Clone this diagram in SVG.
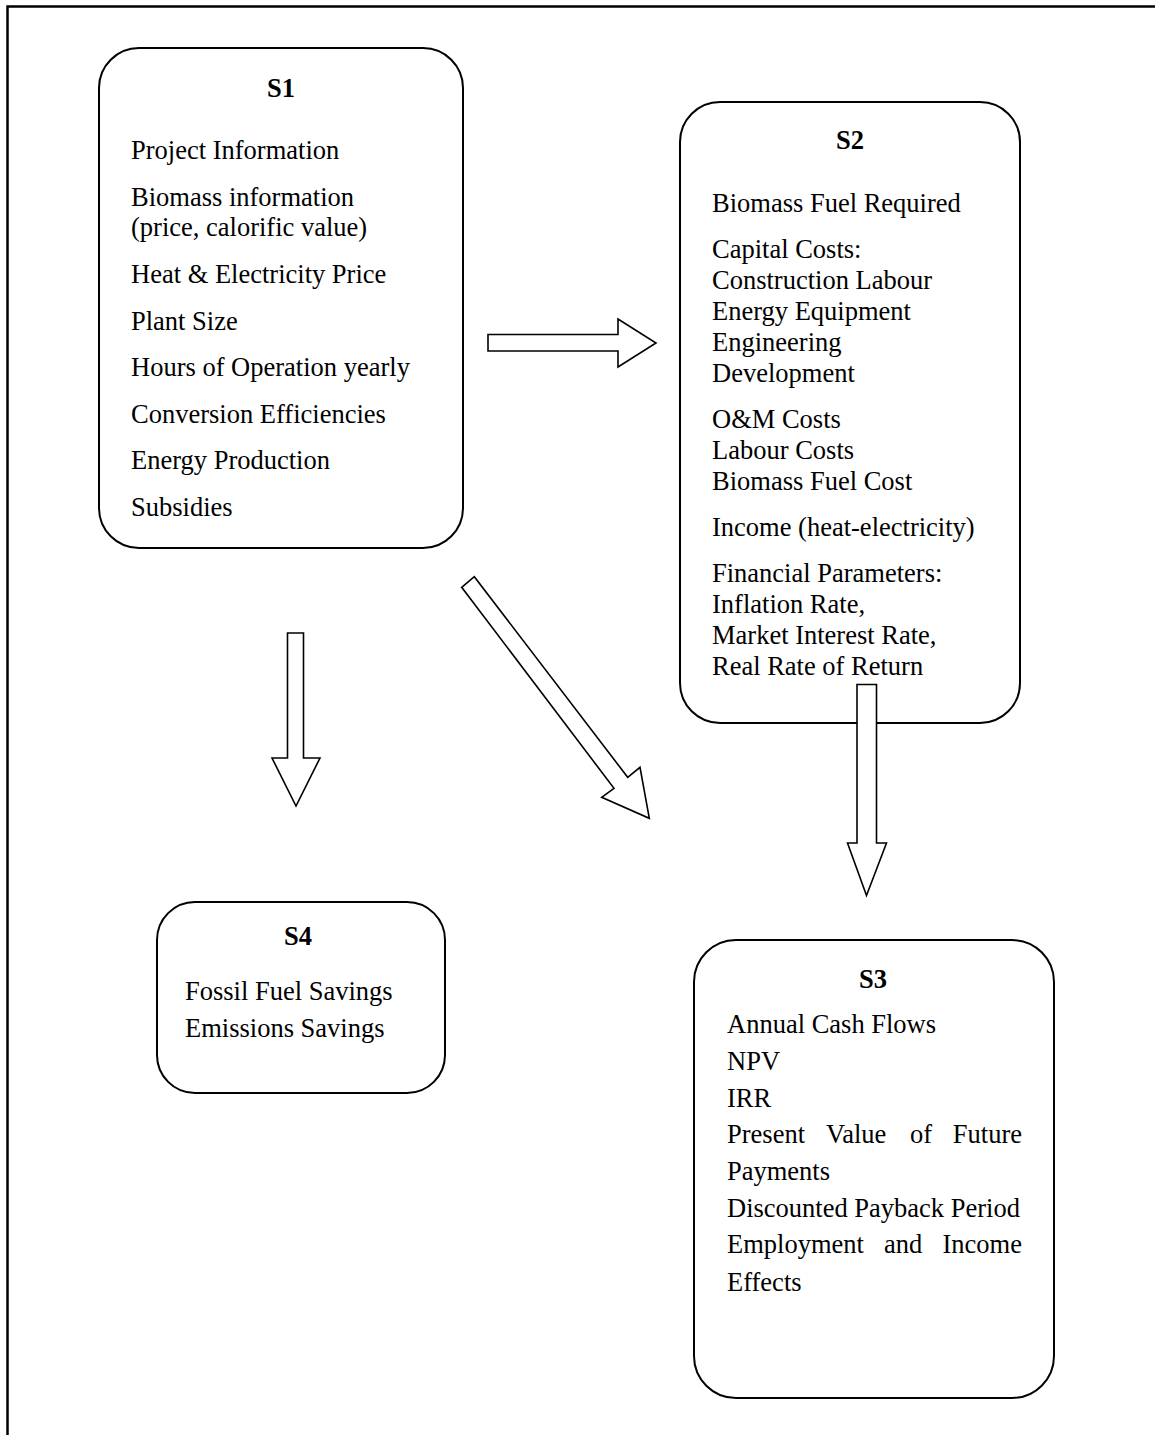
<svg xmlns="http://www.w3.org/2000/svg" width="1155" height="1435" viewBox="0 0 1155 1435">
  <style>
    .frame { fill: none; stroke: #000; stroke-width: 2.5; }
    .box { fill: #fff; stroke: #000; stroke-width: 2; }
    .arrow { fill: #fff; stroke: #000; stroke-width: 1.6; stroke-linejoin: miter; }
    text { font-family: "Liberation Serif", "Times New Roman", serif; font-size: 26.5px; fill: #000; }
    .title { font-weight: bold; text-anchor: middle; }
  </style>
  <rect width="1155" height="1435" fill="#fff"/>
  <!-- page frame (top and left edges) -->
  <path class="frame" d="M7.5,1435 V6.5 H1155"/>

  <g id="s1">
    <rect class="box" x="99" y="48" width="364" height="500" rx="40" ry="40"/>
    <text class="title" x="281" y="97">S1</text>
    <text x="131" y="159">Project Information</text>
    <text x="131" y="206">Biomass information</text>
    <text x="131" y="236">(price, calorific value)</text>
    <text x="131" y="283">Heat &amp; Electricity Price</text>
    <text x="131" y="330">Plant Size</text>
    <text x="131" y="376">Hours of Operation yearly</text>
    <text x="131" y="423">Conversion Efficiencies</text>
    <text x="131" y="469">Energy Production</text>
    <text x="131" y="516">Subsidies</text>
  </g>

  <g id="s2">
    <rect class="box" x="680" y="102" width="340" height="621" rx="40" ry="40"/>
    <text class="title" x="850" y="149">S2</text>
    <text x="712" y="212">Biomass Fuel Required</text>
    <text x="712" y="258">Capital Costs:</text>
    <text x="712" y="289">Construction Labour</text>
    <text x="712" y="320">Energy Equipment</text>
    <text x="712" y="351">Engineering</text>
    <text x="712" y="382">Development</text>
    <text x="712" y="428">O&amp;M Costs</text>
    <text x="712" y="459">Labour Costs</text>
    <text x="712" y="490">Biomass Fuel Cost</text>
    <text x="712" y="536">Income (heat-electricity)</text>
    <text x="712" y="582">Financial Parameters:</text>
    <text x="712" y="613">Inflation Rate,</text>
    <text x="712" y="644">Market Interest Rate,</text>
    <text x="712" y="675">Real Rate of Return</text>
  </g>

  <g id="s3">
    <rect class="box" x="694" y="940" width="360" height="458" rx="42" ry="42"/>
    <text class="title" x="873" y="988">S3</text>
    <text x="727" y="1033">Annual Cash Flows</text>
    <text x="727" y="1070">NPV</text>
    <text x="727" y="1107">IRR</text>
    <text y="1143"><tspan x="727">Present</tspan><tspan x="826">Value</tspan><tspan x="910">of</tspan><tspan x="1022" text-anchor="end">Future</tspan></text>
    <text x="727" y="1180">Payments</text>
    <text x="727" y="1217">Discounted Payback Period</text>
    <text y="1253"><tspan x="727">Employment</tspan><tspan x="884">and</tspan><tspan x="1022" text-anchor="end">Income</tspan></text>
    <text x="727" y="1291">Effects</text>
  </g>

  <g id="s4">
    <rect class="box" x="157" y="902" width="288" height="191" rx="38" ry="38"/>
    <text class="title" x="298" y="945">S4</text>
    <text x="185" y="1000">Fossil Fuel Savings</text>
    <text x="185" y="1037">Emissions Savings</text>
  </g>

  <g id="connectors">
    <!-- S1 to S2 -->
    <polygon class="arrow" points="488,334.5 618,334.5 618,319 656,343 618,367 618,351 488,351"/>
    <!-- S1 to S4 -->
    <polygon class="arrow" points="287.5,633 303.5,633 303.5,758 320,758 296,806 272,758 287.5,758"/>
    <!-- S1 to S3 -->
    <polygon class="arrow" points="461.7,587.3 474.3,576.7 627.7,777.3 640,767.3 649.3,818.3 601.7,797.3 614,788.3"/>
    <!-- S2 to S3 -->
    <polygon class="arrow" points="857,684.5 876.5,684.5 876.5,843 886.5,843 866.5,895.5 847.5,843 857,843"/>
  </g>
</svg>
